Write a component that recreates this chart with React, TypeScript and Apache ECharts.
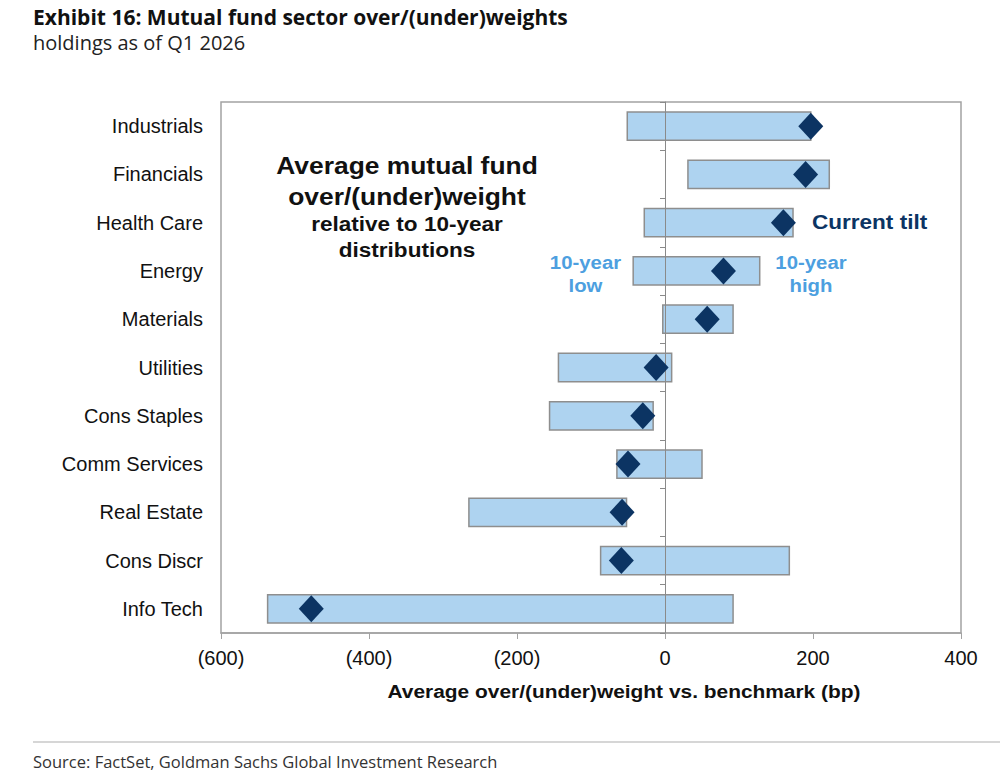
import React, { useEffect, useRef } from "react";
import * as echarts from "echarts";

// Sectors, top to bottom
const categories = [
  "Industrials",
  "Financials",
  "Health Care",
  "Energy",
  "Materials",
  "Utilities",
  "Cons Staples",
  "Comm Services",
  "Real Estate",
  "Cons Discr",
  "Info Tech",
];

// 10-year range of the average over/(under)weight, bp
const tenYearLow = [-51, 31, -28, -43, -3, -144, -156, -65, -265, -87, -537];
const tenYearHigh = [197, 222, 173, 128, 92, 9, -16, 50, -52, 168, 92];
// Current tilt, bp
const currentTilt = [197, 190, 160, 79, 57, -12, -30, -50, -58, -59, -478];

// Value-axis ticks
const xMin = -600;
const xMax = 400;
const xStep = 200;

const LABEL_FONT = "'Liberation Sans', Arial, Helvetica, sans-serif";
const HEAD_FONT = "'Open Sans', 'Noto Sans', sans-serif";
const NAVY = "#0c3463";
const LIGHT_BLUE_TEXT = "#4d9fe0";
const BAR_FILL = "#aed3f0";
const BAR_EDGE = "#8e8e8e";
const FRAME = "#a3a3a3";

function formatBp(v: number): string {
  return v < 0 ? `(${Math.abs(v)})` : `${v}`;
}

export default function App() {
  const ref = useRef<HTMLDivElement>(null);

  useEffect(() => {
    if (!ref.current) return;
    const chart = echarts.init(ref.current, undefined, { renderer: "svg" });

    const rangeData = categories.map((_, i) => [i, tenYearLow[i], tenYearHigh[i]]);
    const tiltData = categories.map((_, i) => [currentTilt[i], i]);

    const boldText = (
      text: string,
      x: number,
      y: number,
      size: number,
      color: string,
      align: "left" | "center" = "center"
    ) => ({
      type: "text",
      x,
      y,
      scaleX: 1.1,
      style: {
        text,
        fill: color,
        font: `bold ${size}px ${LABEL_FONT}`,
        textAlign: align,
        textVerticalAlign: "middle",
      },
      z: 10,
    });

    chart.setOption({
      animation: false,
      backgroundColor: "#ffffff",
      grid: {
        left: 221,
        right: 39,
        top: 102,
        bottom: 151,
        show: true,
        borderColor: FRAME,
        borderWidth: 1.5,
        containLabel: false,
      },
      xAxis: {
        type: "value",
        min: xMin,
        max: xMax,
        interval: xStep,
        axisLine: { show: true, onZero: false, lineStyle: { color: FRAME, width: 1.5 } },
        axisTick: { show: true, inside: false, length: 6, lineStyle: { color: FRAME } },
        splitLine: { show: false },
        axisLabel: {
          formatter: formatBp,
          fontFamily: LABEL_FONT,
          fontSize: 20,
          color: "#111",
          margin: 15,
        },
      },
      yAxis: [
        {
          type: "category",
          inverse: true,
          data: categories,
          position: "left",
          axisLine: { show: false, onZero: false },
          axisTick: { show: false },
          splitLine: { show: false },
          axisLabel: {
            fontFamily: LABEL_FONT,
            fontSize: 20,
            color: "#111",
            margin: 18,
          },
        },
        {
          // zero line with category-boundary ticks
          type: "category",
          inverse: true,
          data: categories,
          position: "left",
          z: 3,
          axisLine: {
            show: true,
            onZero: true,
            onZeroAxisIndex: 0,
            lineStyle: { color: "#8a8a8a", width: 1 },
          },
          axisTick: { show: true, length: 5, lineStyle: { color: "#8a8a8a" } },
          axisLabel: { show: false },
          splitLine: { show: false },
        },
      ],
      series: [
        {
          type: "custom",
          name: "10-year range",
          xAxisIndex: 0,
          yAxisIndex: 0,
          z: 2,
          encode: { x: [1, 2], y: 0 },
          data: rangeData,
          renderItem: (params: any, api: any) => {
            const idx = api.value(0);
            const p1 = api.coord([api.value(1), idx]);
            const p2 = api.coord([api.value(2), idx]);
            const h = api.size([0, 1])[1] * 0.586;
            return {
              type: "rect",
              shape: { x: p1[0], y: p1[1] - h / 2, width: p2[0] - p1[0], height: h },
              style: { fill: BAR_FILL, stroke: BAR_EDGE, lineWidth: 1.5 },
            };
          },
        },
        {
          type: "scatter",
          name: "Current tilt",
          xAxisIndex: 0,
          yAxisIndex: 0,
          z: 5,
          symbol: "diamond",
          symbolSize: [25, 27],
          itemStyle: { color: NAVY, opacity: 1 },
          data: tiltData,
        },
      ],
      graphic: [
        {
          type: "text",
          x: 33,
          y: 17,
          style: {
            text: "Exhibit 16: Mutual fund sector over/(under)weights",
            fill: "#111",
            font: `bold 21px ${HEAD_FONT}`,
            textVerticalAlign: "middle",
            lineHeight: 22,
          },
        },
        {
          type: "text",
          x: 33,
          y: 42,
          style: {
            text: "holdings as of Q1 2026",
            fill: "#222",
            font: `20px ${HEAD_FONT}`,
            textVerticalAlign: "middle",
            lineHeight: 22,
          },
        },
        boldText("Average mutual fund", 407, 165, 24, "#111"),
        boldText("over/(under)weight", 407, 196, 24, "#111"),
        boldText("relative to 10-year", 407, 224, 20.5, "#111"),
        boldText("distributions", 407, 250, 20.5, "#111"),
        boldText("Current tilt", 812, 222, 20.5, NAVY, "left"),
        boldText("10-year", 585.5, 262.5, 18.5, LIGHT_BLUE_TEXT),
        boldText("low", 585.5, 285, 18.5, LIGHT_BLUE_TEXT),
        boldText("10-year", 811, 262.5, 18.5, LIGHT_BLUE_TEXT),
        boldText("high", 811, 285, 18.5, LIGHT_BLUE_TEXT),
        boldText("Average over/(under)weight vs. benchmark (bp)", 624, 691, 19, "#111"),
        {
          type: "line",
          shape: { x1: 33, y1: 742, x2: 1000, y2: 742 },
          style: { stroke: "#c9c9c9", lineWidth: 1.5 },
        },
        {
          type: "text",
          x: 33,
          y: 761,
          style: {
            text: "Source: FactSet, Goldman Sachs Global Investment Research",
            fill: "#333",
            font: `16.5px ${HEAD_FONT}`,
            textVerticalAlign: "middle",
          },
        },
      ],
    });

    return () => chart.dispose();
  }, []);

  return (
    <div
      ref={ref}
      style={{ position: "absolute", left: 0, top: 0, width: 1000, height: 784, background: "#fff" }}
    />
  );
}
